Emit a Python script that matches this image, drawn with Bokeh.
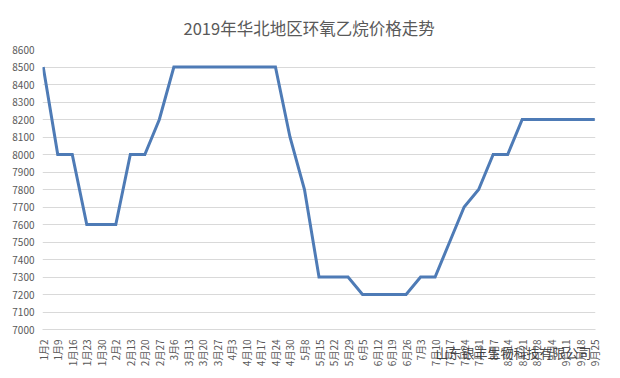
from bokeh.plotting import figure
from bokeh.models import FixedTicker, Range1d, Title
from bokeh.embed import file_html
from bokeh.resources import INLINE

title_text = "2019年华北地区环氧乙烷价格走势"
dates = ["1月2", "1月9", "1月16", "1月23", "1月30", "2月2", "2月13", "2月20", "2月27",
         "3月6", "3月13", "3月20", "3月27", "4月3", "4月10", "4月17", "4月24", "4月30",
         "5月8", "5月15", "5月22", "5月29", "6月5", "6月12", "6月19", "6月26",
         "7月3", "7月10", "7月17", "7月24", "7月31", "8月7", "8月14", "8月21", "8月28",
         "9月4", "9月11", "9月18", "9月25"]
prices = [8500, 8000, 8000, 7600, 7600, 7600, 8000, 8000, 8200,
          8500, 8500, 8500, 8500, 8500, 8500, 8500, 8500, 8100,
          7800, 7300, 7300, 7300, 7200, 7200, 7200, 7200,
          7300, 7300, 7500, 7700, 7800, 8000, 8000, 8200, 8200,
          8200, 8200, 8200, 8200]
y_ticks = list(range(7000, 8601, 100))
watermark = "山东银丰生物科技有限公司"

FONT = "Noto Sans CJK SC"
GREY = "#595959"

xs = list(range(len(dates)))

p = figure(width=604, height=369, output_backend="svg", toolbar_location=None,
           x_range=Range1d(-0.05, len(dates) - 1 + 0.05),
           y_range=Range1d(7000, 8600),
           min_border_left=42, min_border_right=9, min_border_top=49, min_border_bottom=40)

p.title.text = title_text
p.title.align = "left"
p.title.text_font = FONT
p.title.text_font_size = "16.5px"
p.title.text_font_style = "normal"
p.title.text_color = GREY
p.title.standoff = 20
p.title.offset = 141

p.line(xs, prices, line_color="#4e7bb6", line_width=3, line_join="miter")

p.xaxis.ticker = FixedTicker(ticks=xs)
p.xaxis.major_label_overrides = {i: d for i, d in enumerate(dates)}
p.xaxis.major_label_orientation = 1.5707963
p.yaxis.ticker = FixedTicker(ticks=y_ticks)

for ax in (p.xaxis, p.yaxis):
    ax.major_label_text_font = FONT
    ax.major_label_text_font_size = "10px"
    ax.major_label_text_color = GREY
    ax.major_tick_line_color = None
    ax.minor_tick_line_color = None
p.yaxis.axis_line_color = None
p.xaxis.axis_line_color = "#d9d9d9"
p.yaxis.major_label_standoff = 2
p.xaxis.major_label_standoff = 4

p.xgrid.grid_line_color = None
p.ygrid.grid_line_color = "#d9d9d9"
p.ygrid.grid_line_width = 1
p.outline_line_color = None

wm = Title(text=watermark, align="left", vertical_align="top", offset=393, standoff=-54,
           text_font=FONT, text_font_size="13px", text_font_style="normal",
           text_color="#333333", text_alpha=0.9)
p.add_layout(wm, "below")

open("out.html", "w").write(file_html(p, INLINE))
